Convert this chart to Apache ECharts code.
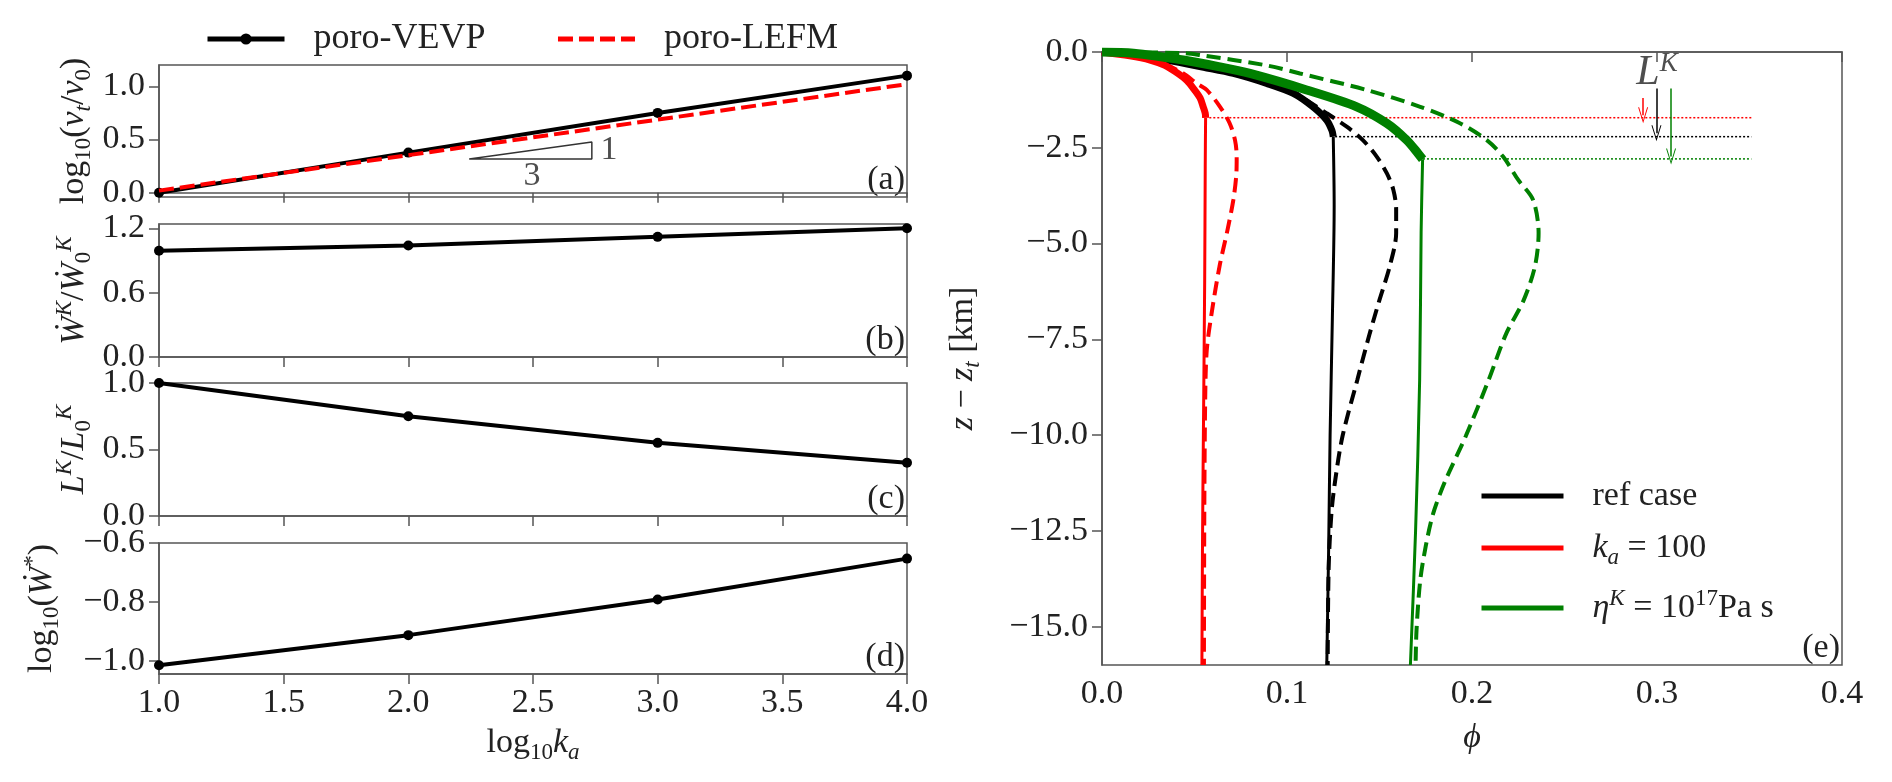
<!DOCTYPE html>
<html>
<head>
<meta charset="utf-8">
<script src="https://cdn.jsdelivr.net/npm/echarts@6/dist/echarts.min.js"></script>
<style>
html, body { margin: 0; padding: 0; background: #fff; }
#chart { width: 1892px; height: 782px; }
</style>
</head>
<body>
<div id="chart"></div>
<script>
// panels (a)-(d): scaling with log10 k_a
const logKa = [1, 2, 3, 4];
const vtVevp = [0.0, 0.377, 0.75, 1.10];
const vtLefm = [0.02, 0.353, 0.687, 1.02];
const wkVevp = [0.99, 1.04, 1.12, 1.20];
const lkVevp = [1.0, 0.75, 0.55, 0.40];
const wstarVevp = [-1.015, -0.913, -0.792, -0.653];
const slopeTriangle = [[2.244, 0.318], [2.736, 0.318], [2.736, 0.477], [2.244, 0.318]];

// panel (e): porosity profiles [phi, z - z_t]
const refSolidTop = [[0, 0], [0.018, -0.08], [0.035, -0.21], [0.055, -0.4], [0.071, -0.56], [0.089, -0.82], [0.1034, -1.08], [0.114, -1.43], [0.1215, -1.78], [0.1243, -2.05], [0.125, -2.21]];
const refSolidLow = [[0.125, -2.21], [0.1255, -4], [0.1245, -7], [0.1233, -10], [0.1225, -13], [0.1215, -16]];
const refDashed = [[0, 0], [0.035, -0.21], [0.071, -0.56], [0.09, -0.82], [0.104, -1.05], [0.1106, -1.26], [0.1215, -1.6], [0.1323, -1.95], [0.141, -2.3], [0.1485, -2.73], [0.154, -3.17], [0.1575, -3.6], [0.159, -4.1], [0.159, -4.73], [0.1555, -5.6], [0.150, -6.47], [0.1447, -7.35], [0.138, -8.56], [0.130, -10.03], [0.126, -11.2], [0.124, -12.05], [0.1225, -13.5], [0.122, -16]];
const kaSolidTop = [[0, 0], [0.015, -0.1], [0.026, -0.21], [0.034, -0.35], [0.041, -0.56], [0.046, -0.75], [0.050, -0.99], [0.053, -1.2], [0.0547, -1.43], [0.0558, -1.6], [0.056, -1.72]];
const kaSolidLow = [[0.056, -1.72], [0.0558, -3], [0.0555, -6], [0.0548, -10], [0.0543, -13], [0.054, -16]];
const kaDashed = [[0, 0], [0.02, -0.15], [0.033, -0.3], [0.044, -0.56], [0.0512, -0.82], [0.0566, -0.99], [0.0638, -1.43], [0.069, -1.86], [0.0719, -2.3], [0.0728, -2.73], [0.0726, -3.2], [0.071, -3.86], [0.0676, -4.7], [0.0635, -5.6], [0.059, -6.9], [0.0566, -7.8], [0.0558, -9], [0.0553, -12], [0.0551, -16]];
const etaSolidTop = [[0, 0], [0.017, -0.03], [0.044, -0.21], [0.063, -0.38], [0.080, -0.56], [0.1106, -0.99], [0.1377, -1.43], [0.1539, -1.86], [0.1647, -2.3], [0.1709, -2.65], [0.1733, -2.8]];
const etaSolidLow = [[0.1733, -2.8], [0.1725, -4.7], [0.1717, -8.56], [0.1695, -12.5], [0.1667, -16]];
const etaDashed = [[0, 0], [0.044, -0.03], [0.053, -0.08], [0.089, -0.35], [0.107, -0.56], [0.143, -0.99], [0.172, -1.43], [0.1935, -1.86], [0.208, -2.3], [0.2168, -2.73], [0.225, -3.34], [0.233, -3.86], [0.236, -4.73], [0.234, -5.6], [0.228, -6.47], [0.2185, -7.35], [0.209, -8.56], [0.1966, -10.03], [0.1855, -11.2], [0.179, -12.05], [0.175, -12.9], [0.172, -13.8], [0.170, -15.1], [0.1695, -16]];

// L^K depths (dotted) and arrows
const depthLines = [
  { color: '#ff0000', z: -1.715, from: 0.058 },
  { color: '#000000', z: -2.21, from: 0.126 },
  { color: '#008000', z: -2.79, from: 0.1735 }
];
const depthLineEnd = 0.351;
const arrows = [
  { color: '#ff0000', phi: 0.2925, z0: -1.2, z1: -1.65 },
  { color: '#000000', phi: 0.2997, z0: -0.95, z1: -2.12 },
  { color: '#008000', phi: 0.3076, z0: -0.95, z1: -2.73 }
];
const yTicksA = [0, 0.5, 1.0];
const yTicksB = [0, 0.6, 1.2];
const yTicksD = [-1.0, -0.8, -0.6];
const yTicksE = [0, -2.5, -5, -7.5, -10, -12.5, -15];

const FONT = 'Liberation Serif';
const TXT = '#222';
const SPINE = '#555';

const rich = {
  n: { fontFamily: FONT, fontSize: 34, lineHeight: 42, color: TXT },
  i: { fontFamily: FONT, fontSize: 34, lineHeight: 42, color: TXT, fontStyle: 'italic' },
  s: { fontFamily: FONT, fontSize: 23, lineHeight: 22, color: TXT, verticalAlign: 'bottom' },
  si: { fontFamily: FONT, fontSize: 23, lineHeight: 22, color: TXT, verticalAlign: 'bottom', fontStyle: 'italic' },
  p: { fontFamily: FONT, fontSize: 23, lineHeight: 22, color: TXT, verticalAlign: 'top' },
  pi: { fontFamily: FONT, fontSize: 23, lineHeight: 22, color: TXT, verticalAlign: 'top', fontStyle: 'italic' }
};

function fmt(v) {
  return (v < 0 ? '\u2212' : '') + Math.abs(v).toFixed(1);
}

const pairs = (xs, ys) => xs.map((x, i) => [x, ys[i]]);

const chart = echarts.init(document.getElementById('chart'));

const gridBase = { show: true, borderColor: SPINE, borderWidth: 1.5, containLabel: false };
const grids = [
  Object.assign({ left: 159, top: 65, width: 748, height: 132 }, gridBase),
  Object.assign({ left: 159, top: 224, width: 748, height: 133 }, gridBase),
  Object.assign({ left: 159, top: 383, width: 748, height: 133 }, gridBase),
  Object.assign({ left: 159, top: 543, width: 748, height: 131 }, gridBase),
  Object.assign({ left: 1102, top: 52, width: 740, height: 613 }, gridBase)
];

const axisCommon = {
  type: 'value',
  splitLine: { show: false },
  axisLine: { show: true, lineStyle: { color: SPINE, width: 1.5 } },
  axisTick: { show: true, length: 10, lineStyle: { color: SPINE, width: 1.5 } },
  axisLabel: { fontFamily: FONT, fontSize: 34, color: TXT, margin: 14, formatter: fmt }
};

function xLeft(idx, withLabels) {
  const ax = Object.assign({}, axisCommon, {
    gridIndex: idx, min: 1, max: 4, interval: 0.5,
    axisLabel: Object.assign({}, axisCommon.axisLabel, { show: withLabels, margin: 12 })
  });
  if (withLabels) {
    ax.name = '{n|log}{s|10}{i|k}{si|a}';
    ax.nameLocation = 'middle';
    ax.nameGap = 48;
    ax.nameTextStyle = { rich: rich };
  }
  return ax;
}

function yAxis(idx, min, max, ticks, name, gap) {
  const ax = Object.assign({}, axisCommon, {
    gridIndex: idx, min: min, max: max,
    name: name, nameLocation: 'middle', nameGap: gap, nameRotate: 90,
    nameTextStyle: { rich: rich }
  });
  if (ticks) {
    ax.axisTick = Object.assign({}, axisCommon.axisTick, { customValues: ticks });
    ax.axisLabel = Object.assign({}, axisCommon.axisLabel, { customValues: ticks });
  } else {
    ax.interval = 0.5;
  }
  return ax;
}

const xAxes = [
  xLeft(0, false), xLeft(1, false), xLeft(2, false), xLeft(3, true),
  Object.assign({}, axisCommon, {
    gridIndex: 4, min: 0, max: 0.4, interval: 0.1,
    axisLabel: Object.assign({}, axisCommon.axisLabel, { margin: 12 }),
    name: '{i|\u03D5}', nameLocation: 'middle', nameGap: 52, nameTextStyle: { rich: rich }
  })
];

const yAxes = [
  yAxis(0, -0.04, 1.2, yTicksA, '{n|log}{s|10}{n|(}{i|v}{si|t}{n|/}{i|v}{s|0}{n|)}', 64),
  yAxis(1, 0, 1.24, yTicksB, '{i|\u1E86}{pi|K}{n|/}{i|\u1E86}{s|0}{pi|K}', 64),
  yAxis(2, 0, 1.0, null, '{i|L}{pi|K}{n|/}{i|L}{s|0}{pi|K}', 64),
  yAxis(3, -1.045, -0.6, yTicksD, '{n|log}{s|10}{n|(}{i|\u1E86}{p|*}{n|)}', 96),
  yAxis(4, -16, 0, yTicksE, '{i|z}{n| \u2212 }{i|z}{si|t}{n| [km]}', 118)
];

function vevpLine(idx, ys) {
  return {
    name: 'poro-VEVP', type: 'line', xAxisIndex: idx, yAxisIndex: idx,
    data: pairs(logKa, ys), symbol: 'circle', symbolSize: 10, showSymbol: true,
    lineStyle: { color: '#000', width: 4 }, itemStyle: { color: '#000' }, z: 3
  };
}

function profile(name, data, color, width, dashed, z) {
  return {
    name: name, type: 'line', xAxisIndex: 4, yAxisIndex: 4, data: data,
    symbol: 'none', smooth: 0.3, z: z,
    lineStyle: { color: color, width: width, type: dashed ? [14, 7] : 'solid', cap: 'butt' },
    itemStyle: { color: color }
  };
}

const arrowHead = 'path://M0,16L5,0L10,16L9,16L5,3L1,16Z';

const series = [
  vevpLine(0, vtVevp),
  {
    name: 'poro-LEFM', type: 'line', xAxisIndex: 0, yAxisIndex: 0,
    data: pairs(logKa, vtLefm), symbol: 'none', z: 4,
    lineStyle: { color: '#ff0000', width: 4, type: [15, 6] }, itemStyle: { color: '#ff0000' }
  },
  {
    name: 'slope', type: 'line', xAxisIndex: 0, yAxisIndex: 0, data: slopeTriangle,
    symbol: 'none', silent: true, lineStyle: { color: '#333', width: 1.5 }, z: 2
  },
  {
    name: 'slopeText', type: 'scatter', xAxisIndex: 0, yAxisIndex: 0, symbolSize: 0, silent: true,
    data: [
      { value: [2.805, 0.40], label: { formatter: '1' } },
      { value: [2.496, 0.152], label: { formatter: '3' } }
    ],
    label: { show: true, position: 'inside', fontFamily: FONT, fontSize: 34, color: TXT }
  },
  vevpLine(1, wkVevp),
  vevpLine(2, lkVevp),
  vevpLine(3, wstarVevp),

  profile('refDash', refDashed, '#000000', 4, true, 2),
  profile('kaDash', kaDashed, '#ff0000', 4, true, 2),
  profile('etaDash', etaDashed, '#008000', 4, true, 2),
  profile('refLow', refSolidLow, '#000000', 3, false, 3),
  profile('kaLow', kaSolidLow, '#ff0000', 3, false, 3),
  profile('etaLow', etaSolidLow, '#008000', 3, false, 3),
  profile('ref case', refSolidTop, '#000000', 7, false, 4),
  profile('ka100', kaSolidTop, '#ff0000', 7, false, 4),
  profile('eta17', etaSolidTop, '#008000', 9, false, 5)
];

depthLines.forEach((d, k) => {
  series.push({
    name: 'depth' + k, type: 'line', xAxisIndex: 4, yAxisIndex: 4, silent: true,
    data: [[d.from, d.z], [depthLineEnd, d.z]], symbol: 'none', z: 1,
    lineStyle: { color: d.color, width: 1.5, type: [2, 2] }
  });
});

arrows.forEach((a, k) => {
  series.push({
    name: 'arrow' + k, type: 'line', xAxisIndex: 4, yAxisIndex: 4, data: [], silent: true,
    itemStyle: { color: a.color }, lineStyle: { color: a.color },
    markLine: {
      silent: true, animation: false,
      symbol: ['none', arrowHead], symbolSize: [10, 16],
      label: { show: false },
      lineStyle: { color: a.color, width: 1.5, type: 'solid' },
      itemStyle: { color: a.color },
      data: [[{ coord: [a.phi, a.z0] }, { coord: [a.phi, a.z1] }]]
    }
  });
});

series.push({
  name: 'LK', type: 'scatter', xAxisIndex: 4, yAxisIndex: 4, symbolSize: 0, silent: true,
  data: [[0.300, -0.55]],
  label: {
    show: true, position: 'inside', formatter: '{i|L}{pi|K}',
    rich: {
      i: { fontFamily: FONT, fontSize: 42, lineHeight: 46, color: TXT, fontStyle: 'italic' },
      pi: { fontFamily: FONT, fontSize: 27, lineHeight: 26, color: TXT, fontStyle: 'italic', verticalAlign: 'top' }
    }
  }
});

const legendLabels = {
  'ref case': '{n|ref case}',
  'ka100': '{i|k}{si|a}{n| = 100}',
  'eta17': '{i|\u03B7}{pi|K}{n| = 10}{p|17}{n|Pa s}'
};

const noSymbol = { opacity: 0 };

const panelTags = [
  { t: '(a)', x: 905, y: 197 },
  { t: '(b)', x: 905, y: 357 },
  { t: '(c)', x: 905, y: 516 },
  { t: '(d)', x: 905, y: 674 },
  { t: '(e)', x: 1840, y: 665 }
];

chart.setOption({
  backgroundColor: '#fff',
  animation: false,
  grid: grids,
  xAxis: xAxes,
  yAxis: yAxes,
  legend: [
    {
      data: [
        { name: 'poro-VEVP', lineStyle: { width: 5 } },
        { name: 'poro-LEFM', lineStyle: { width: 5 }, itemStyle: noSymbol }
      ],
      left: 200, top: 16,
      itemWidth: 77, itemHeight: 14, itemGap: 70, selectedMode: false,
      textStyle: { fontFamily: FONT, fontSize: 36, color: TXT, padding: [0, 0, 0, 24] }
    },
    {
      data: [
        { name: 'ref case', lineStyle: { width: 5 }, itemStyle: noSymbol },
        { name: 'ka100', lineStyle: { width: 5 }, itemStyle: noSymbol },
        { name: 'eta17', lineStyle: { width: 5 }, itemStyle: noSymbol }
      ],
      orient: 'vertical', left: 1474, top: 474,
      itemWidth: 82, itemHeight: 14, itemGap: 18, selectedMode: false,
      formatter: n => legendLabels[n],
      textStyle: { rich: rich, padding: [0, 0, 0, 24] }
    }
  ],
  graphic: panelTags.map(p => ({
    type: 'text', x: p.x, y: p.y, silent: true,
    style: { text: p.t, fontFamily: FONT, fontSize: 34, fill: TXT, align: 'right', verticalAlign: 'bottom' }
  })),
  series: series
});
</script>
</body>
</html>
